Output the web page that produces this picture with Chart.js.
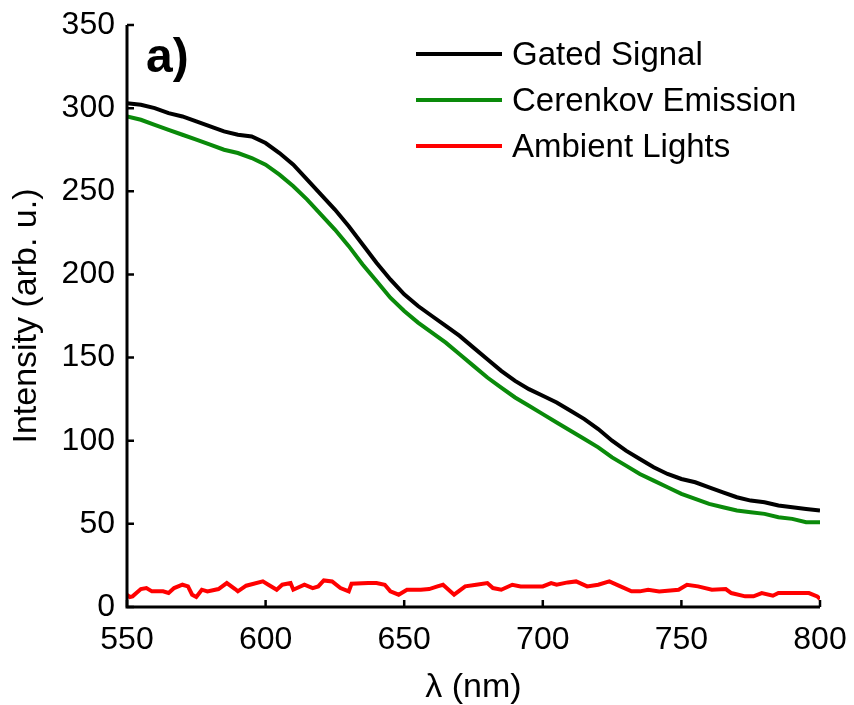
<!DOCTYPE html>
<html>
<head>
<meta charset="utf-8">
<script src="https://cdn.jsdelivr.net/npm/chart.js@4.4.0/dist/chart.umd.min.js"></script>
<style>
  html, body { margin: 0; padding: 0; background: #fff; }
  #wrap { width: 854px; height: 705px; }
</style>
</head>
<body>
<div id="wrap"><canvas id="c" width="854" height="705"></canvas></div>
<script>
// wavelength grid (nm) for the two smooth curves
var lambda5 = [550,555,560,565,570,575,580,585,590,595,600,605,610,615,620,625,630,635,640,645,
  650,655,660,665,670,675,680,685,690,695,700,705,710,715,720,725,730,735,740,745,
  750,755,760,765,770,775,780,785,790,795,800];
var gated = [303,302,300,297,295,292,289,286,284,283,279,273,266,257,248,239,229,218,207,197,
  188,181,175,169,163,156,149,142,136,131,127,123,118,113,107,100,94,89,84,80,
  77,75,72,69,66,64,63,61,60,59,58];
var cerenkov = [295,293,290,287,284,281,278,275,273,270,266,260,253,245,236,227,217,206,196,186,
  178,171,165,159,152,145,138,132,126,121,116,111,106,101,96,90,85,80,76,72,
  68,65,62,60,58,57,56,54,53,51,51];

// ambient light, read point by point
var lambdaAmb = [550,551,552,555,557,559,563,565,567,570,572,573.5,575,577,579,583,586,589,590,593,
  599,601,604,606,609,610,614,617,619,621,624,627,630,631,637,640,643,645,648,651,
  656,659,662,664,668,672,676,680,682,685,689,692,697,700,703,705,709,712,716,720,
  724,728,732,735,738,742,749,752,756,761,766,768,773,776,779,783,785,790,796,799,800];
var ambient = [7.4,6,6.4,10.8,11.4,9.4,9.4,8.4,11.4,13.4,12.4,7.4,6,10.4,9.4,10.8,14.4,10.8,9.4,12.8,
  15.4,13.4,10.4,13.4,14.4,10.4,13.4,11.4,12.4,16,15.4,11.4,9.4,14,14.4,14.4,13.4,9.4,7.4,10.4,
  10.4,10.8,12.4,13.4,7.4,12.4,13.4,14.4,11.4,10.4,13.4,12.4,12.4,12.4,14.4,13.4,14.8,15.4,12.4,13.4,
  15.4,12.4,9.4,9.4,10.4,9.4,10.4,13.4,12.4,10.4,10.8,8.4,6.4,6.4,8.4,6.8,8.4,8.4,8.4,6.4,4.8];

var seriesNames = ['Gated Signal', 'Cerenkov Emission', 'Ambient Lights'];
var seriesColors = ['#000000', '#0a8a0a', '#ff0000'];
var xTicks = [550, 600, 650, 700, 750, 800];
var yTicks = [0, 50, 100, 150, 200, 250, 300, 350];

function pts(xs, ys) {
  var out = [];
  for (var i = 0; i < xs.length; i++) out.push({x: xs[i], y: ys[i]});
  return out;
}

var FONT = '"Liberation Sans", Arial, sans-serif';

// axes lines, inward ticks, panel letter and legend
var decor = {
  id: 'decor',
  afterDatasetsDraw: function (chart) {
    var ctx = chart.ctx;
    var xs = chart.scales.x, ys = chart.scales.y;
    var a = chart.chartArea;
    ctx.save();
    ctx.strokeStyle = '#000';
    ctx.lineWidth = 3;
    ctx.beginPath();
    ctx.moveTo(a.left, a.top);
    ctx.lineTo(a.left, a.bottom);
    ctx.lineTo(a.right, a.bottom);
    ctx.stroke();
    ctx.lineWidth = 2.5;
    ctx.beginPath();
    for (var i = 0; i < xTicks.length; i++) {
      var px = xs.getPixelForValue(xTicks[i]);
      ctx.moveTo(px, a.bottom);
      ctx.lineTo(px, a.bottom - 7);
    }
    for (var j = 0; j < yTicks.length; j++) {
      var py = ys.getPixelForValue(yTicks[j]);
      ctx.moveTo(a.left, py);
      ctx.lineTo(a.left + 7, py);
    }
    ctx.stroke();

    ctx.fillStyle = '#000';
    ctx.font = 'bold 48px ' + FONT;
    ctx.textBaseline = 'alphabetic';
    ctx.textAlign = 'left';
    ctx.fillText('a)', 146, 72);

    // legend
    ctx.font = '33px ' + FONT;
    ctx.textBaseline = 'middle';
    var ly = [54, 100, 146];
    for (var k = 0; k < seriesNames.length; k++) {
      ctx.strokeStyle = seriesColors[k];
      ctx.lineWidth = 4;
      ctx.beginPath();
      ctx.moveTo(416, ly[k]);
      ctx.lineTo(502, ly[k]);
      ctx.stroke();
      ctx.fillText(seriesNames[k], 512, ly[k] + 2);
    }
    ctx.restore();
  }
};

var ds = [
  {label: seriesNames[0], data: pts(lambda5, gated), borderColor: seriesColors[0]},
  {label: seriesNames[1], data: pts(lambda5, cerenkov), borderColor: seriesColors[1]},
  {label: seriesNames[2], data: pts(lambdaAmb, ambient), borderColor: seriesColors[2]}
];
ds.forEach(function (d) { d.borderWidth = 4; d.pointRadius = 0; d.tension = 0; d.fill = false; });

new Chart(document.getElementById('c'), {
  type: 'line',
  data: {datasets: ds},
  plugins: [decor],
  options: {
    responsive: false,
    animation: false,
    layout: {padding: {top: 25, right: 34, left: 0, bottom: 0}},
    plugins: {legend: {display: false}, tooltip: {enabled: false}},
    scales: {
      x: {
        type: 'linear', min: 550, max: 800,
        afterBuildTicks: function (s) { s.ticks = xTicks.map(function (v) { return {value: v}; }); },
        afterFit: function (s) { s.height = 98; s.paddingLeft = 0; s.paddingRight = 0; },
        grid: {display: false, drawTicks: false},
        border: {display: false},
        ticks: {color: '#000', padding: 14, font: {family: FONT, size: 32}, maxRotation: 0},
        title: {display: true, text: 'λ (nm)', color: '#000', font: {family: FONT, size: 34, lineHeight: 1}, padding: {top: 0, bottom: 0}}
      },
      y: {
        min: 0, max: 350,
        afterBuildTicks: function (s) { s.ticks = yTicks.map(function (v) { return {value: v}; }); },
        afterFit: function (s) { s.width = 127; s.paddingTop = 0; s.paddingBottom = 0; },
        grid: {display: false, drawTicks: false},
        border: {display: false},
        ticks: {color: '#000', padding: 12, font: {family: FONT, size: 32}},
        title: {display: true, text: 'Intensity (arb. u.)', color: '#000', font: {family: FONT, size: 34, lineHeight: 1}, padding: {top: 10, bottom: 0}}
      }
    }
  }
});
</script>
</body>
</html>
